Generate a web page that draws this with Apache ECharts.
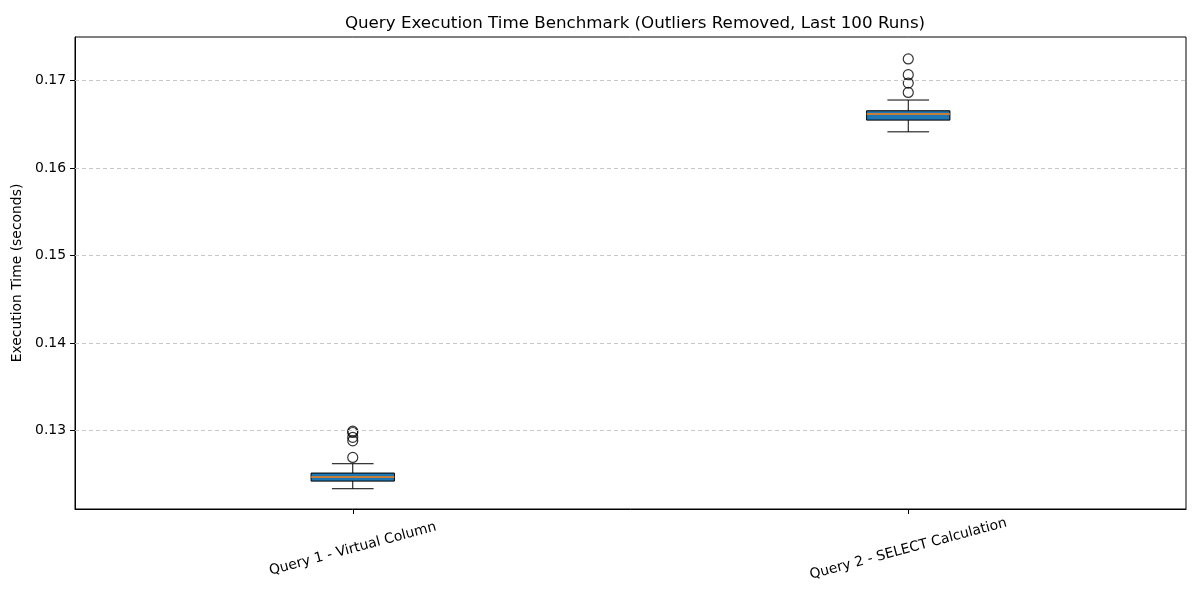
<!DOCTYPE html>
<html>
<head>
<meta charset="utf-8">
<script src="https://cdn.jsdelivr.net/npm/echarts@6/dist/echarts.min.js"></script>
<style>html,body{margin:0;padding:0;background:#fff;}#c{width:1200px;height:600px;}</style>
</head>
<body>
<div id="c"></div>
<script>
const categories = ['Query 1 - Virtual Column', 'Query 2 - SELECT Calculation'];
// [whiskerLow, Q1, median, Q3, whiskerHigh]
const boxStats = [
  [0.12332, 0.12419, 0.12465, 0.12511, 0.12618],
  [0.16415, 0.16549, 0.16618, 0.16656, 0.16779]
];
const outliers1 = [0.1299, 0.12975, 0.1292, 0.1288, 0.1269];
const outliers2 = [0.17249, 0.17069, 0.16973, 0.16866];
const yTicks = [0.13, 0.14, 0.15, 0.16, 0.17];

const outlierData = [];
outliers1.forEach(v => outlierData.push([0, v]));
outliers2.forEach(v => outlierData.push([1, v]));

const FONT = 'DejaVu Sans';
const chart = echarts.init(document.getElementById('c'), null, {renderer: 'canvas'});

chart.setOption({
  backgroundColor: '#fff',
  animation: false,
  textStyle: {fontFamily: FONT},
  title: {
    text: 'Query Execution Time Benchmark (Outliers Removed, Last 100 Runs)',
    left: 630, top: 10, textAlign: 'center',
    textStyle: {fontFamily: FONT, fontSize: 16.7, fontWeight: 'normal', color: '#000'}
  },
  grid: {left: 75, right: 14, top: 37, bottom: 91, show: true, borderColor: '#000', borderWidth: 1, backgroundColor: 'transparent'},
  xAxis: {
    type: 'category',
    data: categories,
    boundaryGap: true,
    axisLine: {lineStyle: {color: '#000'}},
    axisTick: {show: true, interval: 0, alignWithLabel: true, length: 5, lineStyle: {color: '#000', width: 1}},
    axisLabel: {interval: 0, rotate: 15, align: 'center', verticalAlign: 'middle', margin: 40, fontSize: 13.9, color: '#000', fontFamily: FONT},
    splitLine: {show: false}
  },
  yAxis: {
    type: 'value',
    min: 0.121, max: 0.175,
    name: 'Execution Time (seconds)',
    nameLocation: 'middle', nameGap: 48,
    nameTextStyle: {fontSize: 13.9, color: '#000', fontFamily: FONT},
    axisLine: {show: true, lineStyle: {color: '#000'}},
    axisTick: {show: true, length: 5, customValues: yTicks, lineStyle: {color: '#000'}},
    axisLabel: {customValues: yTicks, margin: 9, fontSize: 13.9, color: '#000', fontFamily: FONT, formatter: v => v.toFixed(2)},
    splitLine: {show: false}
  },
  series: [
    {
      type: 'custom',
      data: boxStats.map((s, i) => [i].concat(s)),
      encode: {x: 0, y: [1, 2, 3, 4, 5]},
      renderItem: function (params, api) {
        const i = api.value(0);
        const lo = api.coord([i, api.value(1)]);
        const q1 = api.coord([i, api.value(2)]);
        const md = api.coord([i, api.value(3)]);
        const q3 = api.coord([i, api.value(4)]);
        const hi = api.coord([i, api.value(5)]);
        const band = api.size([1, 0])[0];
        const bw = band * 0.15;
        const cw = bw / 2;
        const x = lo[0];
        const ls = {stroke: '#000', lineWidth: 1};
        return {
          type: 'group',
          children: [
            {type: 'line', shape: {x1: x, y1: lo[1], x2: x, y2: q1[1]}, style: ls},
            {type: 'line', shape: {x1: x, y1: q3[1], x2: x, y2: hi[1]}, style: ls},
            {type: 'line', shape: {x1: x - cw / 2, y1: lo[1], x2: x + cw / 2, y2: lo[1]}, style: ls},
            {type: 'line', shape: {x1: x - cw / 2, y1: hi[1], x2: x + cw / 2, y2: hi[1]}, style: ls},
            {type: 'rect', shape: {x: x - bw / 2, y: q3[1], width: bw, height: q1[1] - q3[1]}, style: {fill: '#1f77b4', stroke: '#000', lineWidth: 1}},
            {type: 'line', shape: {x1: x - bw / 2, y1: md[1], x2: x + bw / 2, y2: md[1]}, style: {stroke: '#ff7f0e', lineWidth: 1.5}}
          ]
        };
      },
      z: 3
    },
    {
      type: 'scatter',
      data: outlierData,
      symbol: 'circle',
      symbolSize: 10,
      itemStyle: {color: 'rgba(255,255,255,0)', borderColor: '#000', borderWidth: 1.2},
      z: 4,
      markLine: {
        silent: true,
        symbol: 'none',
        label: {show: false},
        lineStyle: {type: [4, 3], color: '#c8c8c8', width: 1},
        data: yTicks.map(v => ({yAxis: v}))
      }
    }
  ]
});
</script>
</body>
</html>
